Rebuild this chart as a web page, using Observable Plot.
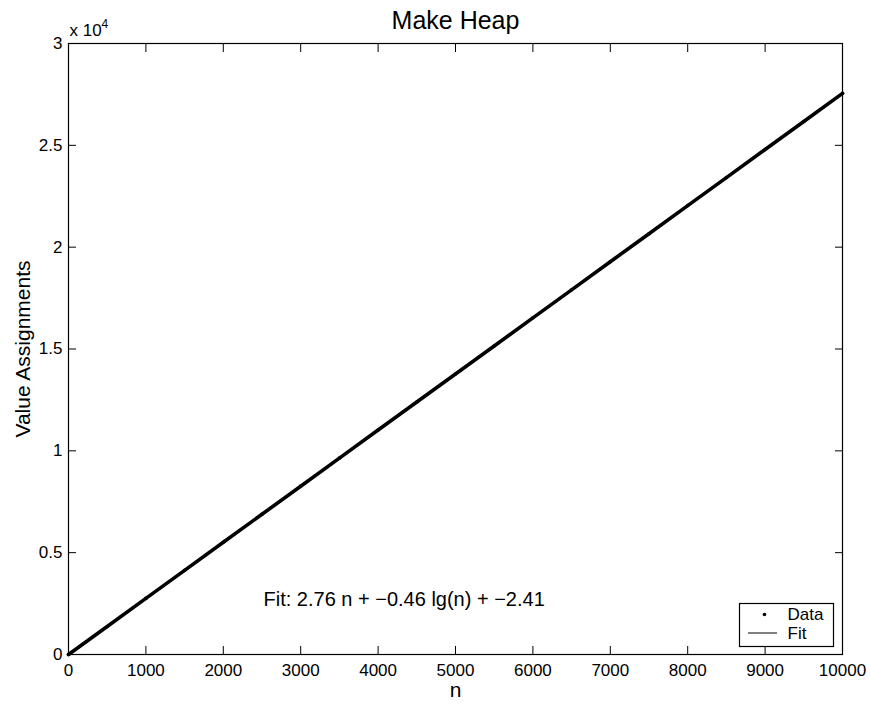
<!DOCTYPE html>
<html>
<head>
<meta charset="utf-8">
<script src="https://cdn.jsdelivr.net/npm/d3@7"></script>
<script src="https://cdn.jsdelivr.net/npm/@observablehq/plot@0.6"></script>
<style>
  html, body { margin: 0; padding: 0; background: white; }
</style>
</head>
<body>
<div id="chart"></div>
<script>
// Data
const nValues = [0, 500, 1000, 1500, 2000, 2500, 3000, 3500, 4000, 4500, 5000,
                 5500, 6000, 6500, 7000, 7500, 8000, 8500, 9000, 9500, 10000];
const assignments = [0, 1375, 2755, 4130, 5510, 6885, 8265, 9640, 11020, 12395, 13775,
                     15150, 16530, 17905, 19285, 20660, 22040, 23415, 24795, 26170, 27550];
const fitN = [1, 10000];
const fitValues = [0, 27591];
const xTicks = [0, 1000, 2000, 3000, 4000, 5000, 6000, 7000, 8000, 9000, 10000];
const yTicks = [0, 5000, 10000, 15000, 20000, 25000, 30000];
const yTickLabels = ["0", "0.5", "1", "1.5", "2", "2.5", "3"];
const titleText = "Make Heap";
const xLabel = "n";
const yLabel = "Value Assignments";
const fitText = "Fit: 2.76 n + \u22120.46 lg(n) + \u22122.41";
const legendLabels = ["Data", "Fit"];

const data = nValues.map((n, i) => ({n, v: assignments[i]}));
const fit = fitN.map((n, i) => ({n, v: fitValues[i]}));

const font = "'Liberation Sans', Arial, Helvetica, sans-serif";
const blank = () => "";

const chart = Plot.plot({
  width: 870,
  height: 706,
  marginLeft: 68,
  marginRight: 28,
  marginTop: 43,
  marginBottom: 52,
  style: {fontFamily: font, background: "white", color: "black", overflow: "visible"},
  x: {domain: [0, 10000]},
  y: {domain: [0, 30000]},
  marks: [
    // inward ticks on all four sides
    Plot.axisX(xTicks, {anchor: "bottom", tickSize: -8, tickFormat: blank, label: null, strokeWidth: 1}),
    Plot.axisX(xTicks, {anchor: "top", tickSize: -8, tickFormat: blank, label: null, strokeWidth: 1}),
    Plot.axisY(yTicks, {anchor: "left", tickSize: -8, tickFormat: blank, label: null, strokeWidth: 1}),
    Plot.axisY(yTicks, {anchor: "right", tickSize: -8, tickFormat: blank, label: null, strokeWidth: 1}),
    // tick labels
    Plot.axisX(xTicks, {anchor: "bottom", tickSize: 0, tickPadding: 9, fontSize: 17, label: null, tickFormat: d => String(d)}),
    Plot.axisY(yTicks, {anchor: "left", tickSize: 0, tickPadding: 6, fontSize: 17, label: null,
      tickFormat: d => yTickLabels[yTicks.indexOf(d)]}),
    Plot.frame({stroke: "black", strokeWidth: 1.2}),
    // data (dense dots) and fit
    Plot.line(data, {x: "n", y: "v", stroke: "black", strokeWidth: 3.6}),
    Plot.dot(data, {x: "n", y: "v", r: 1.8, fill: "black"}),
    Plot.line(fit, {x: "n", y: "v", stroke: "black", strokeWidth: 1}),
    // annotations
    Plot.text([titleText], {frameAnchor: "top", dy: -23, fontSize: 25, lineAnchor: "middle", fill: "black"}),
    Plot.text(["x 10"], {frameAnchor: "top-left", dx: 1, dy: -13, fontSize: 17, textAnchor: "start", lineAnchor: "middle", fill: "black"}),
    Plot.text(["4"], {frameAnchor: "top-left", dx: 33, dy: -19, fontSize: 12, textAnchor: "start", lineAnchor: "middle", fill: "black"}),
    Plot.text([xLabel], {frameAnchor: "bottom", dy: 36, fontSize: 21, lineAnchor: "middle", fill: "black"}),
    Plot.text([yLabel], {frameAnchor: "left", dx: -45, rotate: -90, fontSize: 21, textAnchor: "middle", lineAnchor: "middle", fill: "black"}),
    Plot.text([fitText], {frameAnchor: "bottom-left", dx: 195, dy: -55, fontSize: 20, textAnchor: "start", lineAnchor: "middle", fill: "black"}),
    // legend
    Plot.frame({insetLeft: 671, insetRight: 9, insetTop: 560, insetBottom: 8, fill: "white", stroke: "black", strokeWidth: 1.2}),
    Plot.dot([legendLabels[0]], {frameAnchor: "bottom-right", dx: -78, dy: -40, r: 1.8, fill: "black"}),
    Plot.text([legendLabels[0]], {frameAnchor: "bottom-right", dx: -55, dy: -40, fontSize: 17, textAnchor: "start", lineAnchor: "middle", fill: "black"}),
    Plot.text([legendLabels[1]], {frameAnchor: "bottom-right", dx: -55, dy: -21, fontSize: 17, textAnchor: "start", lineAnchor: "middle", fill: "black"})
  ]
});

// Fit line sample in the legend
d3.select(chart).append("line")
  .attr("x1", 842 - 94).attr("x2", 842 - 65)
  .attr("y1", 654 - 21).attr("y2", 654 - 21)
  .attr("stroke", "black").attr("stroke-width", 1);

document.getElementById("chart").appendChild(chart);
</script>
</body>
</html>
